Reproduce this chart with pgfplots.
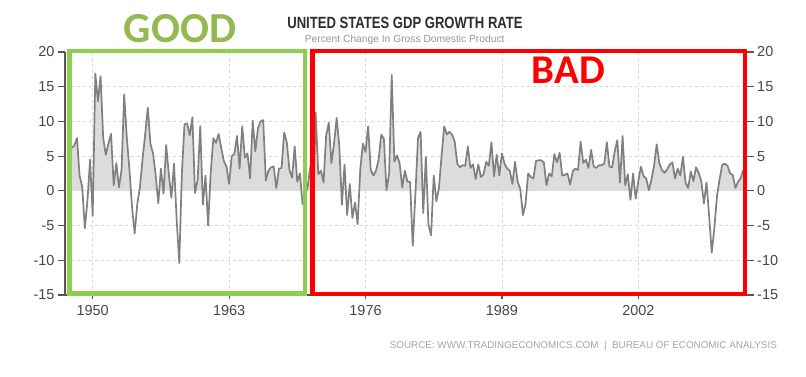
\documentclass[border=0pt]{standalone}
\usepackage{pgfplots}
\pgfplotsset{compat=1.18}
\usepackage{pgfplotstable}
\usepackage{fontspec}
\usepackage{graphicx}
\setmainfont{Liberation Sans}
\newfontfamily\calfont{Carlito}
\definecolor{goodtxt}{RGB}{146,186,80}
\definecolor{goodbox}{RGB}{140,206,80}
\definecolor{badred}{RGB}{255,0,0}
\definecolor{axgray}{RGB}{85,85,85}
\definecolor{tickgray}{RGB}{70,70,70}
\definecolor{gridgray}{RGB}{215,215,215}
\definecolor{linegray}{RGB}{128,128,128}
\definecolor{fillgray}{RGB}{220,220,220}
\definecolor{titlegray}{RGB}{45,45,45}
\definecolor{subgray}{RGB}{150,150,150}
\definecolor{srcgray}{RGB}{165,165,165}

\pgfplotstableread{
t v
1948.00 6.2
1948.25 6.5
1948.50 7.6
1948.75 2.2
1949.00 0.6
1949.25 -5.4
1949.50 -1.4
1949.75 4.5
1950.00 -3.6
1950.25 16.9
1950.50 12.9
1950.75 16.5
1951.00 7.6
1951.25 5.2
1951.50 6.8
1951.75 8.2
1952.00 0.8
1952.25 4.0
1952.50 0.5
1952.75 3.0
1953.00 13.9
1953.25 7.7
1953.50 3.1
1953.75 -2.4
1954.00 -6.1
1954.25 -1.9
1954.50 0.5
1954.75 4.6
1955.00 8.1
1955.25 12.0
1955.50 6.8
1955.75 5.4
1956.00 2.3
1956.25 -1.8
1956.50 3.2
1956.75 -0.4
1957.00 6.6
1957.25 2.5
1957.50 -1.0
1957.75 3.9
1958.00 -4.1
1958.25 -10.4
1958.50 2.6
1958.75 9.6
1959.00 9.7
1959.25 8.0
1959.50 10.6
1959.75 -0.3
1960.00 1.6
1960.25 9.3
1960.50 -2.0
1960.75 2.2
1961.00 -5.0
1961.25 2.7
1961.50 7.6
1961.75 6.9
1962.00 8.2
1962.25 6.2
1962.50 4.3
1962.75 3.5
1963.00 1.0
1963.25 5.0
1963.50 5.3
1963.75 7.9
1964.00 3.2
1964.25 9.3
1964.50 4.8
1964.75 5.4
1965.00 1.8
1965.25 10.1
1965.50 5.7
1965.75 9.0
1966.00 10.0
1966.25 10.2
1966.50 1.5
1966.75 2.9
1967.00 3.4
1967.25 3.5
1967.50 0.4
1967.75 3.2
1968.00 3.3
1968.25 8.4
1968.50 7.0
1968.75 3.0
1969.00 1.9
1969.25 6.4
1969.50 1.3
1969.75 2.5
1970.00 -1.9
1970.25 -0.7
1970.50 0.7
1970.75 3.6
1971.00 -4.0
1971.25 11.3
1971.50 2.4
1971.75 2.9
1972.00 1.2
1972.25 8.0
1972.50 9.8
1972.75 4.0
1973.00 6.8
1973.25 10.5
1973.50 6.5
1973.75 -2.0
1974.00 3.8
1974.25 -3.5
1974.50 1.0
1974.75 -3.9
1975.00 -1.7
1975.25 -4.8
1975.50 3.1
1975.75 6.8
1976.00 5.6
1976.25 9.3
1976.50 3.0
1976.75 2.2
1977.00 2.9
1977.25 4.5
1977.50 8.1
1977.75 7.5
1978.00 0.1
1978.25 2.5
1978.50 16.7
1978.75 4.2
1979.00 5.1
1979.25 4.0
1979.50 0.5
1979.75 2.9
1980.00 1.3
1980.25 1.3
1980.50 -7.9
1980.75 -0.6
1981.00 7.6
1981.25 8.5
1981.50 -3.2
1981.75 4.9
1982.00 -4.9
1982.25 -6.4
1982.50 2.2
1982.75 -1.5
1983.00 0.4
1983.25 5.1
1983.50 9.3
1983.75 8.1
1984.00 8.5
1984.25 8.1
1984.50 7.1
1984.75 3.9
1985.00 3.4
1985.25 3.7
1985.50 3.6
1985.75 6.4
1986.00 3.3
1986.25 3.8
1986.50 1.7
1986.75 3.8
1987.00 2.0
1987.25 2.4
1987.50 4.2
1987.75 3.6
1988.00 7.0
1988.25 2.1
1988.50 5.2
1988.75 2.2
1989.00 5.4
1989.25 3.9
1989.50 3.2
1989.75 2.9
1990.00 1.0
1990.25 4.2
1990.50 1.3
1990.75 0.3
1991.00 -3.5
1991.25 -1.9
1991.50 2.5
1991.75 2.0
1992.00 1.8
1992.25 4.3
1992.50 4.4
1992.75 4.4
1993.00 4.1
1993.25 0.8
1993.50 2.5
1993.75 2.1
1994.00 5.3
1994.25 4.1
1994.50 5.5
1994.75 2.2
1995.00 2.3
1995.25 2.5
1995.50 0.9
1995.75 2.8
1996.00 3.2
1996.25 3.0
1996.50 7.1
1996.75 4.0
1997.00 4.5
1997.25 3.3
1997.50 5.9
1997.75 3.5
1998.00 3.3
1998.25 3.7
1998.50 3.7
1998.75 3.9
1999.00 7.0
1999.25 3.5
1999.50 3.4
1999.75 5.7
2000.00 7.3
2000.25 1.2
2000.50 7.9
2000.75 0.8
2001.00 2.4
2001.25 -1.3
2001.50 2.5
2001.75 -1.1
2002.00 1.4
2002.25 3.5
2002.50 2.1
2002.75 1.8
2003.00 0.1
2003.25 1.6
2003.50 3.6
2003.75 6.7
2004.00 4.0
2004.25 3.0
2004.50 2.6
2004.75 3.1
2005.00 3.8
2005.25 4.1
2005.50 1.8
2005.75 3.2
2006.00 2.2
2006.25 4.9
2006.50 1.2
2006.75 0.4
2007.00 2.8
2007.25 1.4
2007.50 3.4
2007.75 2.6
2008.00 1.4
2008.25 -1.8
2008.50 1.2
2008.75 -3.7
2009.00 -8.9
2009.25 -5.3
2009.50 -0.7
2009.75 1.7
2010.00 3.8
2010.25 3.9
2010.50 3.6
2010.75 2.5
2011.00 2.3
2011.25 0.4
2011.50 1.3
2011.75 1.8
2012.00 3.0
}\gdpdata

\begin{document}
\begin{tikzpicture}[x=1bp,y=1bp]
\useasboundingbox (0,0) rectangle (806,376);
% right-hand y axis
\begin{axis}[
  at={(65bp,81bp)}, anchor=south west,
  scale only axis, width=681.7bp, height=243bp,
  xmin=1947.36, xmax=2012.33, ymin=-15, ymax=20,
  axis y line*=right, axis x line=none,
  axis line style={axgray, line width=1.4bp, -},
  ytick={-15,-10,...,20},
  tick align=outside, major tick length=7bp,
  ytick style={axgray, line width=1.2bp},
  tick label style={font=\fontsize{14.5}{15}\selectfont, text=tickgray},
  /pgf/number format/assume math mode=true,
]
\addplot[draw=none] coordinates {(1950,0) (1960,1)};
\end{axis}
% main axis
\begin{axis}[
  at={(65bp,81bp)}, anchor=south west,
  scale only axis, width=681.7bp, height=243bp,
  xmin=1947.36, xmax=2012.33, ymin=-15, ymax=20,
  axis x line*=bottom, axis y line*=left,
  axis line style={axgray, line width=1.4bp, -},
  xtick={1950,1963,1976,1989,2002},
  xticklabels={1950,1963,1976,1989,2002},
  ytick={-15,-10,...,20},
  tick align=outside, major tick length=7bp,
  xtick style={axgray, line width=1.2bp, /pgfplots/major tick length=4bp},
  ytick style={axgray, line width=1.2bp},
  grid=major,
  grid style={gridgray, dash pattern=on 3bp off 3bp, line width=0.8bp},
  tick label style={font=\fontsize{14.5}{15}\selectfont, text=tickgray},
  /pgf/number format/assume math mode=true,
  clip=false,
]
\begin{scope}
\clip (axis cs:1947.36,0) rectangle (axis cs:2012.33,20);
\addplot[fill=fillgray, draw=none, forget plot] table[x=t,y=v]{\gdpdata} \closedcycle;
\end{scope}
\addplot[linegray, line width=1.7bp, line join=round] table[x=t,y=v]{\gdpdata};
\draw[goodbox, line width=4.3bp] (axis cs:1947.79,-14.8) rectangle (axis cs:1970.21,20.15);
\draw[badred, line width=4.7bp] (axis cs:1970.98,-14.85) rectangle (axis cs:2012.18,20.15);
\end{axis}
% texts
\node[anchor=base, inner sep=0, text=goodtxt] at (180,333.5) {\calfont\bfseries\fontsize{43}{43}\selectfont GOOD};
\node[anchor=base, inner sep=0, text=badred] at (568.3,293) {\calfont\bfseries\fontsize{41}{41}\selectfont BAD};
\node[anchor=base, inner sep=0, text=titlegray] at (405,347.7) {\scalebox{0.805}[1]{\bfseries\fontsize{16.3}{17}\selectfont UNITED STATES GDP GROWTH RATE}};
\node[anchor=base, inner sep=0, text=subgray] at (404.7,334) {\fontsize{10.3}{11}\selectfont Percent Change In Gross Domestic Product};
\node[anchor=base, inner sep=0, text=srcgray] at (583.3,27.7) {\resizebox{387bp}{!}{\fontsize{9.8}{10}\selectfont SOURCE:\ WWW.TRADINGECONOMICS.COM\ \ |\ \ BUREAU\ OF\ ECONOMIC\ ANALYSIS}};
\end{tikzpicture}
\end{document}
